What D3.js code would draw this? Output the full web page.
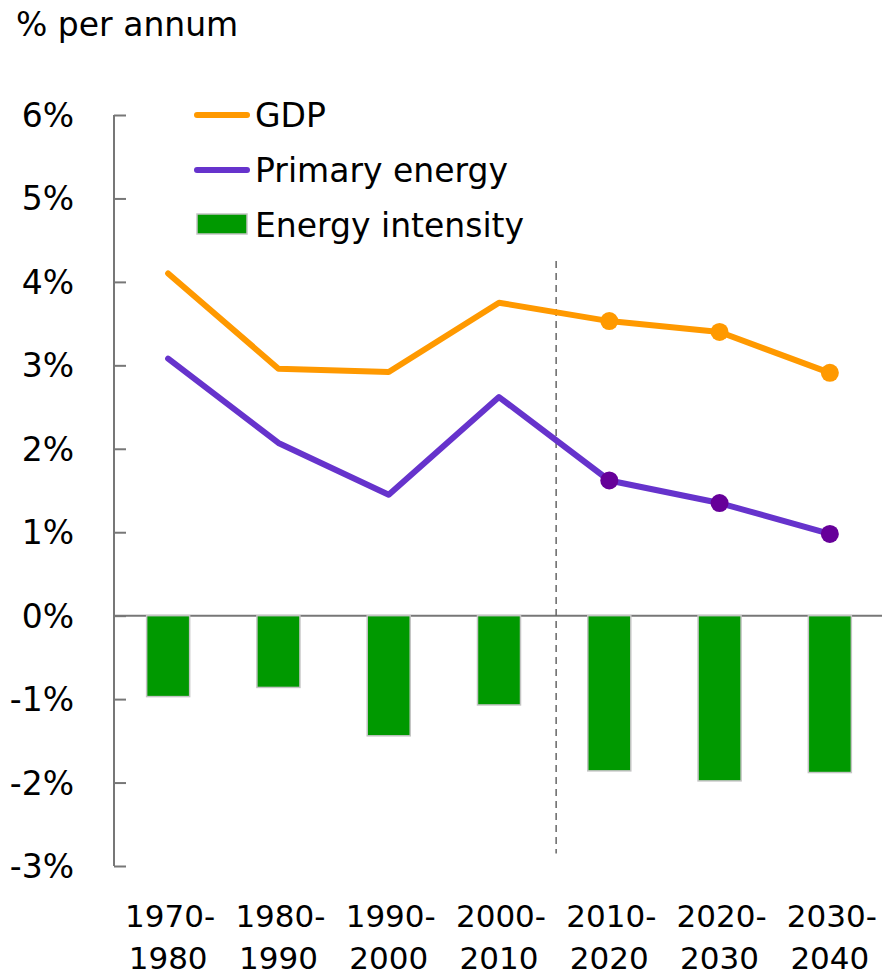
<!DOCTYPE html>
<html lang="en">
<head>
<meta charset="utf-8">
<script src="https://d3js.org/d3.v7.min.js"></script>
<style>
  body { margin: 0; padding: 0; background: #fff; }
  svg text { font-family: "DejaVu Sans", Verdana, sans-serif; fill: #000; }
</style>
</head>
<body>
<svg id="chart" width="882" height="976"></svg>
<script>
// data
var periods = ["1970-1980", "1980-1990", "1990-2000", "2000-2010", "2010-2020", "2020-2030", "2030-2040"];
var gdp = [4.10, 2.96, 2.92, 3.75, 3.53, 3.40, 2.91];
var primaryEnergy = [3.08, 2.07, 1.45, 2.62, 1.62, 1.35, 0.98];
var energyIntensity = [-0.97, -0.86, -1.44, -1.07, -1.86, -1.98, -1.88];
var yTicks = [-3, -2, -1, 0, 1, 2, 3, 4, 5, 6];
var firstProjection = 4; // 2010-2020 onwards are projections

var svg = d3.select("#chart");

var x = d3.scaleBand()
    .domain(periods)
    .range([113, 885])
    .paddingInner(0.61)
    .paddingOuter(0.305);

var y = d3.scaleLinear()
    .domain([-3, 6])
    .range([866, 115]);

var cx = function (i) { return x(periods[i]) + x.bandwidth() / 2; };

// title
svg.append("text")
    .attr("x", 16)
    .attr("y", 36)
    .style("font-size", "33px")
    .text("% per annum");

// zero line
svg.append("line")
    .attr("x1", 114).attr("x2", 882)
    .attr("y1", y(0)).attr("y2", y(0))
    .attr("stroke", "#777").attr("stroke-width", 2);

// bars
svg.append("g")
    .selectAll("rect")
    .data(energyIntensity)
    .enter()
    .append("rect")
    .attr("x", function (d, i) { return x(periods[i]); })
    .attr("y", function (d) { return y(Math.max(0, d)); })
    .attr("width", x.bandwidth())
    .attr("height", function (d) { return Math.abs(y(d) - y(0)); })
    .attr("fill", "#009900")
    .attr("stroke", "#c4c4c4")
    .attr("stroke-width", 1.5);

// y axis
var yAxis = d3.axisRight(y)
    .tickValues(yTicks)
    .tickSize(12)
    .tickFormat("");
var gy = svg.append("g")
    .attr("transform", "translate(114,0)")
    .call(yAxis);
gy.select(".domain").attr("stroke", "#777").attr("stroke-width", 2).attr("d", "M0," + y(6) + "V" + y(-3));
gy.selectAll(".tick line").attr("stroke", "#777").attr("stroke-width", 2);

svg.append("g")
    .selectAll("text")
    .data(yTicks)
    .enter()
    .append("text")
    .attr("x", 74)
    .attr("y", function (d) { return y(d) + 12; })
    .attr("text-anchor", "end")
    .style("font-size", "33px")
    .text(function (d) { return d + "%"; });

// x labels
var xl = svg.append("g")
    .selectAll("text")
    .data(periods)
    .enter()
    .append("text")
    .attr("text-anchor", "middle")
    .style("font-size", "31px");
xl.append("tspan")
    .attr("x", function (d, i) { return cx(i) + 2; })
    .attr("y", 927)
    .text(function (d) { return d.split("-")[0] + "-"; });
xl.append("tspan")
    .attr("x", function (d, i) { return cx(i); })
    .attr("y", 969)
    .text(function (d) { return d.split("-")[1]; });

// projection divider
var divX = (cx(firstProjection - 1) + cx(firstProjection)) / 2 + 2;
svg.append("line")
    .attr("x1", divX).attr("x2", divX)
    .attr("y1", y(4.25)).attr("y2", y(-2.85))
    .attr("stroke", "#666")
    .attr("stroke-width", 1.5)
    .attr("stroke-dasharray", "7,5");

// lines
var line = d3.line()
    .x(function (d, i) { return cx(i); })
    .y(function (d) { return y(d); });

function drawSeries(values, lineColor, dotColor) {
    svg.append("path")
        .datum(values)
        .attr("d", line)
        .attr("fill", "none")
        .attr("stroke", lineColor)
        .attr("stroke-width", 6)
        .attr("stroke-linejoin", "round")
        .attr("stroke-linecap", "round");
    svg.append("g")
        .selectAll("circle")
        .data(values.slice(firstProjection))
        .enter()
        .append("circle")
        .attr("cx", function (d, i) { return cx(i + firstProjection); })
        .attr("cy", function (d) { return y(d); })
        .attr("r", 9)
        .attr("fill", dotColor);
}
drawSeries(gdp, "#ff9900", "#ff9900");
drawSeries(primaryEnergy, "#6633cc", "#660099");

// legend
var legend = svg.append("g");
legend.append("line")
    .attr("x1", 197).attr("x2", 247).attr("y1", 115).attr("y2", 115)
    .attr("stroke", "#ff9900").attr("stroke-width", 6).attr("stroke-linecap", "round");
legend.append("text").attr("x", 255).attr("y", 127).style("font-size", "33px").text("GDP");
legend.append("line")
    .attr("x1", 197).attr("x2", 247).attr("y1", 170).attr("y2", 170)
    .attr("stroke", "#6633cc").attr("stroke-width", 6).attr("stroke-linecap", "round");
legend.append("text").attr("x", 255).attr("y", 182).style("font-size", "33px").text("Primary energy");
legend.append("rect")
    .attr("x", 197).attr("y", 214).attr("width", 50).attr("height", 20)
    .attr("fill", "#009900").attr("stroke", "#c4c4c4").attr("stroke-width", 1.5);
legend.append("text").attr("x", 255).attr("y", 237).style("font-size", "33px").text("Energy intensity");
</script>
</body>
</html>
